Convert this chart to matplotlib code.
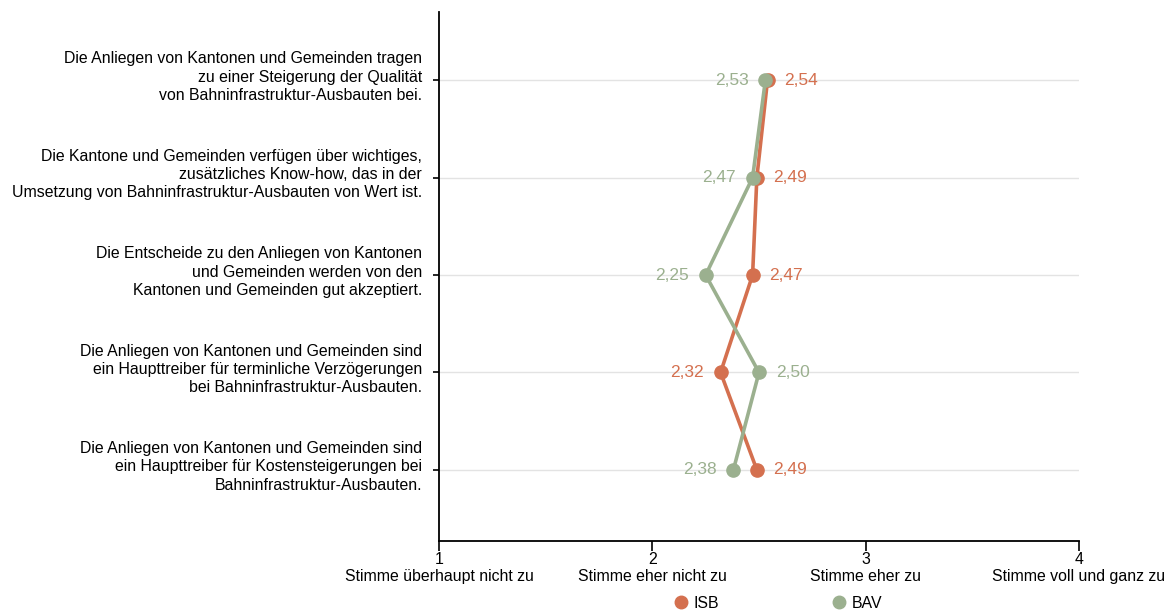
import matplotlib
matplotlib.use("Agg")
import matplotlib.pyplot as plt
import matplotlib.transforms as mtransforms
from matplotlib.lines import Line2D

plt.rcParams['font.family'] = ['Liberation Sans', 'DejaVu Sans']

statements = [
    "Die Anliegen von Kantonen und Gemeinden tragen\nzu einer Steigerung der Qualität\nvon Bahninfrastruktur-Ausbauten bei.",
    "Die Kantone und Gemeinden verfügen über wichtiges,\nzusätzliches Know-how, das in der\nUmsetzung von Bahninfrastruktur-Ausbauten von Wert ist.",
    "Die Entscheide zu den Anliegen von Kantonen\nund Gemeinden werden von den\nKantonen und Gemeinden gut akzeptiert.",
    "Die Anliegen von Kantonen und Gemeinden sind\nein Haupttreiber für terminliche Verzögerungen\nbei Bahninfrastruktur-Ausbauten.",
    "Die Anliegen von Kantonen und Gemeinden sind\nein Haupttreiber für Kostensteigerungen bei\nBahninfrastruktur-Ausbauten.",
]
isb = [2.54, 2.49, 2.47, 2.32, 2.49]
bav = [2.53, 2.47, 2.25, 2.50, 2.38]
xticks = [1, 2, 3, 4]
xlabels = ["1\nStimme überhaupt nicht zu", "2\nStimme eher nicht zu",
           "3\nStimme eher zu", "4\nStimme voll und ganz zu"]
series_names = ["ISB", "BAV"]
c_isb = "#d4704f"
c_bav = "#9bb08f"

fig = plt.figure(figsize=(11.75, 6.14), dpi=100)
ax = fig.add_axes([0.3736, 0.1189, 0.5447, 0.8616])

ypos = list(range(len(statements)))
for y in ypos:
    ax.axhline(y, color="#e3e3e3", lw=1, zorder=0)

ax.plot(isb, ypos, color=c_isb, lw=2.6, marker="o", ms=9.5, zorder=3)
ax.plot(bav, ypos, color=c_bav, lw=2.6, marker="o", ms=9.5, zorder=4)

for y, a, b in zip(ypos, isb, bav):
    for v, other, col in ((a, b, c_isb), (b, a, c_bav)):
        lab = f"{v:.2f}".replace(".", ",")
        if v >= other:
            ax.annotate(lab, (v, y), xytext=(12, 0), textcoords="offset points",
                        ha="left", va="center", color=col, fontsize=12.5)
        else:
            ax.annotate(lab, (v, y), xytext=(-12, 0), textcoords="offset points",
                        ha="right", va="center", color=col, fontsize=12.5)

ax.set_xlim(1, 4)
ax.set_ylim(4.73, -0.70)
ax.set_yticks(ypos)
ax.set_yticklabels([""] * len(ypos))
label_tr = ax.get_yaxis_transform() + mtransforms.ScaledTranslation(
    -17 / 100, 3 / 100, fig.dpi_scale_trans)
for y, s in zip(ypos, statements):
    ax.text(0, y, s, transform=label_tr, ha="right", va="center",
            multialignment="right", fontsize=11.4, linespacing=1.27)
ax.set_xticks(xticks)
ax.set_xticklabels(xlabels, fontsize=11.4, linespacing=1.12)

for s in ("top", "right"):
    ax.spines[s].set_visible(False)
for s in ("left", "bottom"):
    ax.spines[s].set_color("black")
    ax.spines[s].set_linewidth(1.3)
ax.tick_params(axis="y", length=4, width=1.2, pad=9)
ax.tick_params(axis="x", length=7, width=1.2, pad=1)

handles = [Line2D([], [], ls="none", marker="o", ms=9, color=c_isb),
           Line2D([], [], ls="none", marker="o", ms=9, color=c_bav)]
fig.legend(handles, series_names, loc="lower center", ncol=2,
           bbox_to_anchor=(0.662, -0.018), frameon=False, fontsize=11.4,
           handletextpad=0.3, columnspacing=7.1, handlelength=1.0)

fig.savefig("out.png", dpi=100)
